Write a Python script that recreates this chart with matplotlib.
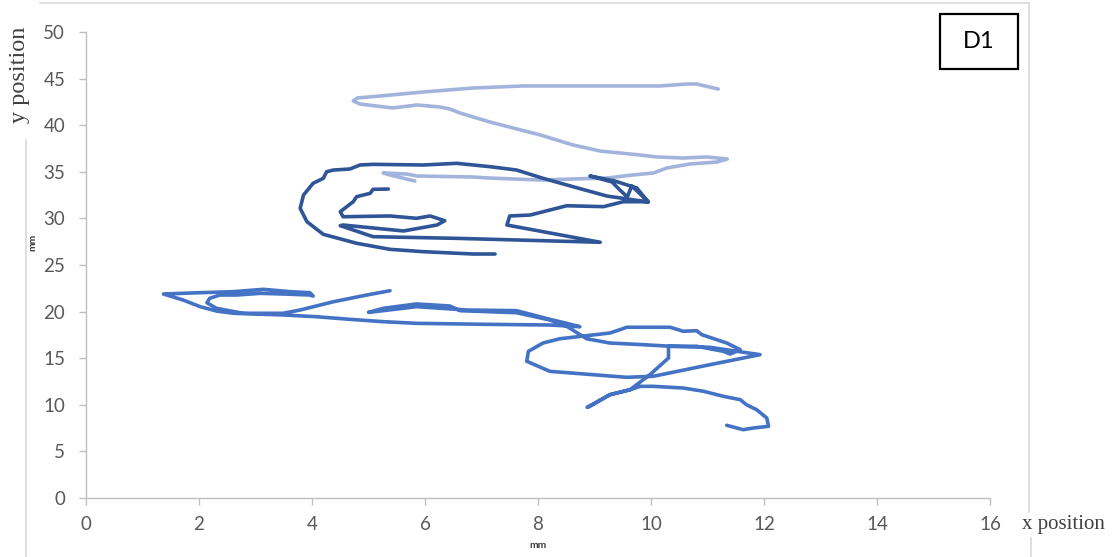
import matplotlib
matplotlib.use('Agg')
import matplotlib.pyplot as plt
from matplotlib.lines import Line2D
from matplotlib.patches import Rectangle

plt.rcParams['font.family'] = ['Lato', 'DejaVu Sans']

# ---- data (mm) ----
light_x = [11.19, 10.81, 10.64, 10.16, 9.22, 8.62, 7.73, 6.85, 5.96, 5.20, 4.80, 4.73, 4.85,
           5.43, 5.86, 6.27, 6.44, 6.62, 7.15, 8.04, 8.62, 9.10, 9.81, 10.11, 10.57, 10.99,
           11.35, 11.17, 10.69, 10.28, 10.04, 9.68, 9.22, 8.62, 8.04, 7.15, 6.85, 5.86, 5.68,
           5.29, 5.26, 5.38, 5.82]
light_y = [43.88, 44.42, 44.42, 44.21, 44.21, 44.21, 44.21, 43.99, 43.56, 43.13, 42.92, 42.60, 42.27,
           41.85, 42.17, 41.95, 41.74, 41.31, 40.34, 38.95, 37.88, 37.23, 36.80, 36.59, 36.48, 36.59,
           36.37, 36.05, 35.84, 35.41, 34.87, 34.66, 34.33, 34.23, 34.12, 34.33, 34.44, 34.55, 34.76,
           34.87, 34.87, 34.66, 34.01]

dark_x = [5.35, 5.08, 5.03, 4.79, 4.73, 4.50, 4.55, 5.38, 5.85, 6.09, 6.35, 6.21, 5.62, 4.55,
          4.50, 5.08, 6.56, 9.10, 7.45, 7.50, 7.86, 8.51, 9.16, 9.51, 9.95, 9.66, 9.58, 9.45,
          9.31, 8.92, 9.36, 9.75, 9.95, 9.22, 8.62, 8.09, 7.62, 7.15, 6.56, 5.97, 5.08, 4.85,
          4.67, 4.38, 4.26, 4.20, 4.02, 3.85, 3.79, 3.91, 4.20, 4.79, 5.38, 5.97, 6.85, 7.24]
dark_y = [33.15, 33.12, 32.69, 32.33, 31.79, 30.72, 30.18, 30.26, 30.01, 30.26, 29.75, 29.29, 28.65, 29.29,
          29.22, 28.04, 27.86, 27.44, 29.29, 30.26, 30.36, 31.36, 31.26, 31.79, 31.79, 33.48, 32.30, 33.05,
          33.91, 34.55, 34.01, 33.26, 31.76, 32.40, 33.40, 34.30, 35.19, 35.55, 35.91, 35.73, 35.80, 35.73,
          35.30, 35.19, 35.01, 34.30, 33.77, 32.51, 31.08, 29.65, 28.29, 27.33, 26.68, 26.43, 26.18, 26.18]

mid_x = [11.34, 11.63, 11.81, 12.08, 12.05, 11.87, 11.69, 11.58, 11.28, 10.93, 10.57, 10.04, 9.81,
         9.63, 9.27, 8.92, 8.87, 9.27, 9.63, 9.98, 10.31, 10.31, 11.04, 11.52, 11.93, 11.04, 10.04,
         9.57, 8.21, 7.80, 7.83, 8.09, 8.39, 9.27, 9.45, 9.57, 10.34, 10.57, 10.81, 10.90, 11.34,
         11.58, 11.40, 11.28, 10.81, 10.34, 9.86, 9.27, 8.86, 8.51, 8.21, 7.62, 6.62, 6.44, 5.85,
         5.26, 5.00, 5.26, 5.85, 6.74, 7.62, 8.21, 8.51, 8.74, 8.21, 7.03, 5.85, 5.26, 4.67, 4.08,
         3.49, 2.61, 2.31, 2.02, 1.72, 1.37, 2.02, 2.61, 3.14, 3.61, 3.96, 4.02, 3.96, 3.49, 3.08,
         2.67, 2.37, 2.19, 2.14, 2.31, 2.78, 3.49, 3.79, 4.38, 4.97, 5.38]
mid_y = [7.80, 7.33, 7.51, 7.69, 8.58, 9.47, 10.01, 10.55, 10.91, 11.45, 11.80, 11.98, 11.98,
         11.62, 11.08, 9.84, 9.73, 11.08, 11.62, 13.23, 15.02, 16.28, 16.17, 15.74, 15.38, 14.30, 13.06,
         12.95, 13.59, 14.67, 15.74, 16.63, 17.09, 17.70, 18.06, 18.32, 18.32, 17.89, 17.95, 17.52, 16.63,
         15.91, 15.45, 15.74, 16.28, 16.28, 16.45, 16.63, 17.09, 18.42, 19.10, 19.88, 20.10, 20.60, 20.82,
         20.35, 19.92, 20.10, 20.53, 20.17, 20.10, 19.17, 18.74, 18.38, 18.56, 18.64, 18.74, 18.92, 19.17, 19.45,
         19.64, 19.82, 20.06, 20.53, 21.24, 21.89, 22.03, 22.14, 22.39, 22.14, 22.03, 21.67, 21.78, 21.89, 21.96,
         21.78, 21.78, 21.43, 20.95, 20.35, 19.82, 19.82, 20.17, 21.06, 21.78, 22.24]

x_ticks = [0, 2, 4, 6, 8, 10, 12, 14, 16]
y_ticks = [0, 5, 10, 15, 20, 25, 30, 35, 40, 45, 50]

W, H = 1112, 557
def fx(px):
    return px / W
def fy(py):
    return 1 - py / H

fig = plt.figure(figsize=(W / 100, H / 100), dpi=100)
fig.patch.set_facecolor('white')

# outer light frame (partly hidden by the axis titles)
frame_c = '#D9D9D9'
fig.add_artist(Line2D([fx(40), fx(1029)], [fy(3), fy(3)], color=frame_c, lw=1.2))
fig.add_artist(Line2D([fx(26), fx(26)], [fy(140), fy(557)], color=frame_c, lw=1.2))
fig.add_artist(Line2D([fx(1029), fx(1029)], [fy(3), fy(512)], color=frame_c, lw=1.2))
fig.add_artist(Line2D([fx(1031), fx(1031)], [fy(538), fy(557)], color=frame_c, lw=1.2))

ax = fig.add_axes([fx(86), fy(498), (990 - 86) / W, (498 - 32) / H])
ax.set_facecolor('none')

kw = dict(lw=2.6, solid_capstyle='round', solid_joinstyle='round')
ax.plot(light_x, light_y, color='#A3B4DC', **kw)
ax.plot(dark_x, dark_y, color='#2F5597', **kw)
ax.plot(mid_x, mid_y, color='#4472C4', **kw)

ax.set_xlim(0, 16)
ax.set_ylim(0, 50)
ax.set_xticks(x_ticks)
ax.set_yticks(y_ticks)
for s in ['top', 'right']:
    ax.spines[s].set_visible(False)
for s in ['left', 'bottom']:
    ax.spines[s].set_color('#BFBFBF')
    ax.spines[s].set_linewidth(1.0)
ax.tick_params(axis='both', direction='out', length=5, width=1.0, color='#BFBFBF',
               labelcolor='#595959', labelsize=13.5)
ax.tick_params(axis='y', pad=10)
ax.tick_params(axis='x', pad=8)

# axis titles
serif = ['Liberation Serif', 'DejaVu Serif']
fig.text(fx(20), fy(75), 'y position', rotation=90, ha='center', va='center',
         fontsize=17.5, family=serif, color='#404040')
fig.text(fx(1022), fy(524), 'x position', ha='left', va='center',
         fontsize=15, family=serif, color='#404040')
fig.text(fx(33), fy(242), 'mm', rotation=90, ha='center', va='center',
         fontsize=7.5, fontweight='bold', color='#404040')
fig.text(fx(538), fy(545), 'mm', ha='center', va='center',
         fontsize=7.5, fontweight='bold', color='#404040')

# D1 label box
fig.add_artist(Rectangle((fx(940), fy(69)), (1018 - 940) / W, (69 - 14) / H,
                         transform=fig.transFigure, fill=False, ec='black', lw=1.6))
fig.text(fx(979), fy(42), 'D1', ha='center', va='center', fontsize=17, color='black')

fig.savefig('out.png', dpi=100)
